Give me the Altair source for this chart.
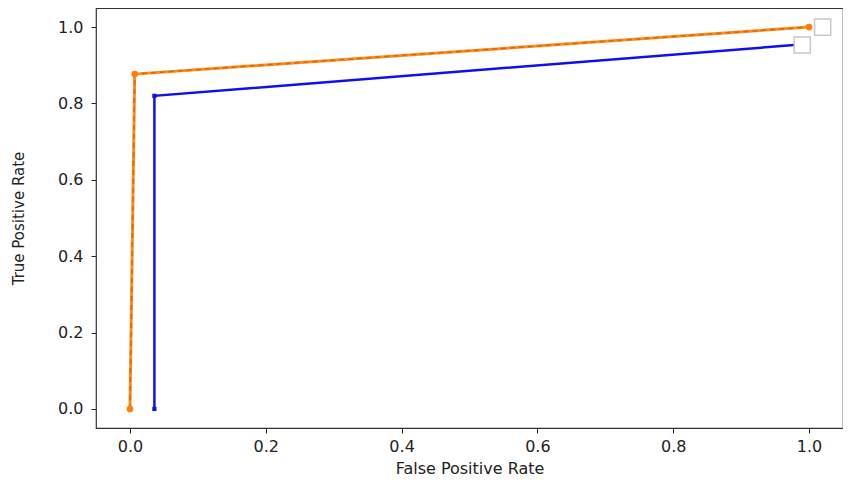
import altair as alt
import pandas as pd

blue_fpr = [0.036, 0.036, 0.978]
blue_tpr = [0.0, 0.82, 0.953]
orange_fpr = [0.0, 0.007, 1.0]
orange_tpr = [0.0, 0.877, 1.0]
box_fpr = [1.02, 0.99]
box_tpr = [1.0, 0.953]
ticks = [0.0, 0.2, 0.4, 0.6, 0.8, 1.0]

blue = pd.DataFrame({"fpr": blue_fpr, "tpr": blue_tpr, "o": [0, 1, 2]})
orange = pd.DataFrame({"fpr": orange_fpr, "tpr": orange_tpr, "o": [0, 1, 2]})
boxes = pd.DataFrame({"fpr": box_fpr, "tpr": box_tpr})

FONT = "DejaVu Sans"
xs = alt.Scale(domain=[-0.05, 1.05], nice=False, zero=False)
ys = alt.Scale(domain=[-0.05, 1.05], nice=False, zero=False)
xax = alt.Axis(values=ticks, format=".1f", grid=False, domain=False, tickColor="#222",
               tickSize=5, labelFontSize=16, labelColor="#222", labelFont=FONT,
               labelPadding=5, title="False Positive Rate", titleFont=FONT,
               titleFontSize=16, titleFontWeight="normal", titleColor="#222",
               titlePadding=6)
yax = alt.Axis(values=ticks, format=".1f", grid=False, domain=False, tickColor="#222",
               tickSize=5, labelFontSize=16, labelColor="#222", labelFont=FONT,
               labelPadding=8, title="True Positive Rate", titleFont=FONT,
               titleFontSize=15, titleFontWeight="normal", titleColor="#222",
               titleX=-78, titleY=210, titleAngle=270, titleAlign="center",
               titleBaseline="middle")

X = alt.X("fpr:Q", scale=xs, axis=xax)
Y = alt.Y("tpr:Q", scale=ys, axis=yax)

blue_line = alt.Chart(blue).mark_line(color="#1010ee", strokeWidth=2.5).encode(x=X, y=Y, order="o:Q")
blue_pts = alt.Chart(blue.iloc[:2]).mark_point(shape="square", filled=True, color="#1010ee", size=18, opacity=1).encode(x=X, y=Y)
or_line = alt.Chart(orange).mark_line(color="#ff8c1a", strokeWidth=3).encode(x=X, y=Y, order="o:Q")
or_dash = alt.Chart(orange).mark_line(color="#d8680a", strokeWidth=1.5, strokeDash=[5, 4]).encode(x=X, y=Y, order="o:Q")
or_pts = alt.Chart(orange).mark_point(shape="circle", filled=True, color="#ff7f0e", size=45, opacity=1).encode(x=X, y=Y)
box_pts = alt.Chart(boxes).mark_point(shape="square", filled=True, fill="white", stroke="#c8c8c8",
                                      strokeWidth=1.5, size=260, opacity=1).encode(x=X, y=Y)

chart = alt.layer(blue_line, blue_pts, or_line, or_dash, or_pts, box_pts).properties(
    width=747, height=420,
    background="white",
    autosize=alt.AutoSizeParams(type="none"),
    padding={"left": 88, "top": 0, "right": 0, "bottom": 60},
).configure_view(stroke="#333", strokeWidth=1.2)

chart.save("out.html", embed_options={"renderer": "svg", "actions": False})
